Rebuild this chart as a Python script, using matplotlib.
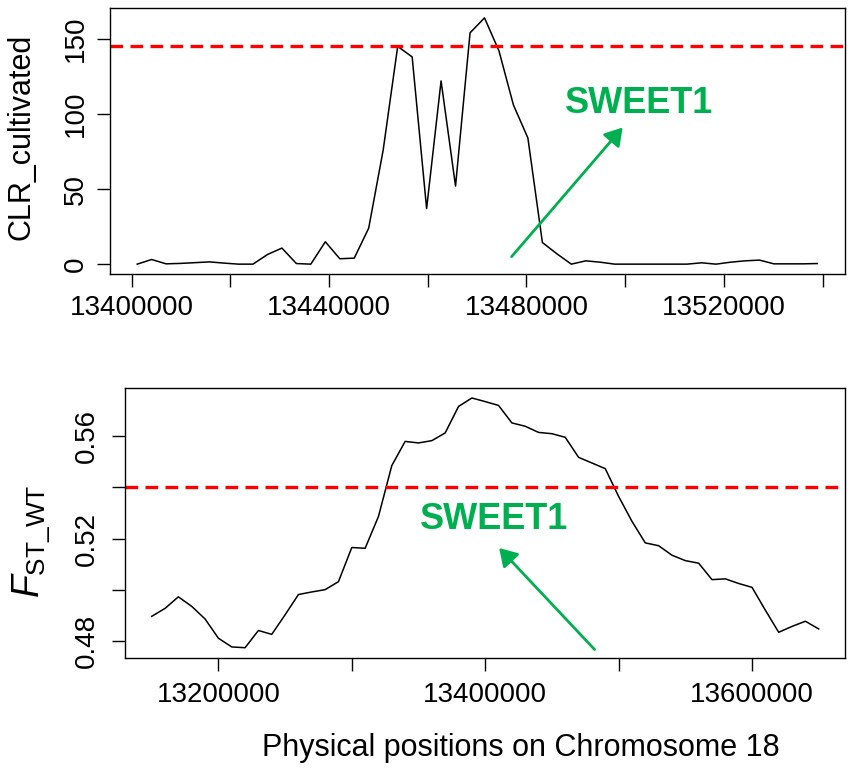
import matplotlib.pyplot as plt
import numpy as np

plt.rcParams['font.family'] = ['Liberation Sans', 'DejaVu Sans']
plt.rcParams['mathtext.fontset'] = 'custom'
plt.rcParams['mathtext.rm'] = 'Liberation Sans'
plt.rcParams['mathtext.it'] = 'Liberation Sans:italic'

# top panel: CLR scan of cultivated samples
clr_pos = [13401140, 13404070, 13407000, 13409940, 13412870, 13415800, 13418730, 13421660,
           13424600, 13427530, 13430460, 13433390, 13436320, 13439260, 13442190, 13445120,
           13448050, 13450980, 13453920, 13456850, 13459780, 13462710, 13465640, 13468580,
           13471510, 13474440, 13477370, 13480300, 13483240, 13486170, 13489100, 13492030,
           13494960, 13497900, 13500830, 13503760, 13506690, 13509620, 13512560, 13515490,
           13518420, 13521350, 13524280, 13527220, 13530150, 13533080, 13536010, 13538940]
clr_val = [0, 3.1, 0.2, 0.5, 1.0, 1.5, 0.7, 0, 0, 6.4, 10.7, 0.4, 0, 14.9, 3.6, 4.0,
           24, 76, 145, 138, 37, 122, 52, 154, 164, 142, 106, 84, 14.4, 6.9, 0, 2.2,
           1.3, 0, 0, 0, 0, 0, 0, 0.9, 0, 1.3, 2.2, 2.7, 0.2, 0.2, 0.2, 0.4]
clr_cut = 145
clr_xticks = [13400000, 13420000, 13440000, 13460000, 13480000, 13500000, 13520000, 13540000]
clr_xlabels = ['13400000', '', '13440000', '', '13480000', '', '13520000', '']
clr_yticks = [0, 50, 100, 150]

# bottom panel: Fst between wild and cultivated
fst_pos = [13150000, 13160000, 13170000, 13180000, 13190000, 13200000, 13210000, 13220000,
           13230000, 13240000, 13250000, 13260000, 13270000, 13280000, 13290000, 13300000,
           13310000, 13320000, 13330000, 13340000, 13350000, 13360000, 13370000, 13380000,
           13390000, 13400000, 13410000, 13420000, 13430000, 13440000, 13450000, 13460000,
           13470000, 13480000, 13490000, 13500000, 13510000, 13520000, 13530000, 13540000,
           13550000, 13560000, 13570000, 13580000, 13590000, 13600000, 13610000, 13620000,
           13630000, 13640000, 13650000]
fst_val = [0.4897, 0.4928, 0.4973, 0.4936, 0.4887, 0.4812, 0.4778, 0.4775, 0.4842, 0.4827,
           0.4903, 0.4982, 0.4992, 0.5001, 0.5032, 0.5165, 0.5162, 0.5286, 0.5484, 0.5578,
           0.5572, 0.5581, 0.5611, 0.5714, 0.5747, 0.5733, 0.5718, 0.5650, 0.5637, 0.5613,
           0.5608, 0.5594, 0.5516, 0.5494, 0.5472, 0.5364, 0.5267, 0.5183, 0.5172, 0.5135,
           0.5114, 0.5104, 0.5040, 0.5043, 0.5025, 0.5010, 0.4921, 0.4835, 0.4858, 0.4878,
           0.4848]
fst_cut = 0.54
fst_xticks = [13200000, 13300000, 13400000, 13500000, 13600000]
fst_xlabels = ['13200000', '', '13400000', '', '13600000']
fst_yticks = [0.48, 0.50, 0.52, 0.54, 0.56]
fst_ylabels = ['0.48', '', '0.52', '', '0.56']

green = '#00B050'
W, H = 849, 776

fig = plt.figure(figsize=(W / 100, H / 100), dpi=100)


def px_rect(l, t, r, b):
    return [l / W, 1 - b / H, (r - l) / W, (b - t) / H]


def style(ax, ysize, ypad, xpad):
    for s in ax.spines.values():
        s.set_linewidth(1.0)
    ax.tick_params(axis='x', length=9.4, width=1.0, labelsize=20, pad=xpad)
    ax.tick_params(axis='y', length=9.4, width=1.0, labelsize=ysize, pad=ypad)
    plt.setp(ax.get_yticklabels(), rotation=90, va='center', ha='right')


ax1 = fig.add_axes(px_rect(110, 8, 844.5, 274))
ax1.plot(clr_pos, clr_val, color='black', lw=1.1)
ax1.margins(x=0.04, y=0.04)
ax1.axhline(clr_cut, color='red', lw=2.4, dashes=(3.8, 2.2))
ax1.set_xticks(clr_xticks)
ax1.set_xticklabels(clr_xlabels)
ax1.set_yticks(clr_yticks)
ax1.set_yticklabels([str(v) for v in clr_yticks])
style(ax1, 20, 6, 5.5)
ax1.annotate('', xy=(13499500, 91), xytext=(13477000, 5),
             arrowprops=dict(arrowstyle='-|>,head_length=0.7,head_width=0.43',
                             mutation_scale=15, lw=2, color=green,
                             shrinkA=0, shrinkB=0))
ax1.text(13502900, 106.7, 'SWEET1', color=green, fontsize=26, fontweight='bold',
         ha='center', va='center')

ax2 = fig.add_axes(px_rect(125, 388, 845.4, 657.7))
ax2.plot(fst_pos, fst_val, color='black', lw=1.1)
ax2.margins(x=0.04, y=0.04)
ax2.axhline(fst_cut, color='red', lw=2.4, dashes=(3.8, 2.2))
ax2.set_xticks(fst_xticks)
ax2.set_xticklabels(fst_xlabels)
ax2.set_yticks(fst_yticks)
ax2.set_yticklabels(fst_ylabels)
style(ax2, 20, 9, 8)
ax2.annotate('', xy=(13410450, 0.5163), xytext=(13482000, 0.4768),
             arrowprops=dict(arrowstyle='-|>,head_length=0.7,head_width=0.43',
                             mutation_scale=15, lw=2, color=green,
                             shrinkA=0, shrinkB=0))
ax2.text(13406500, 0.5274, 'SWEET1', color=green, fontsize=26, fontweight='bold',
         ha='center', va='center')

fig.text(21.7 / W, 1 - 137 / H, 'CLR_cultivated', rotation=90, fontsize=22,
         ha='center', va='center')
fig.text(31 / W, 1 - 541 / H, r'$\mathit{F}_{\mathrm{ST\_WT}}$', rotation=90,
         fontsize=27, ha='center', va='center')
fig.text(521 / W, 1 - 756 / H, 'Physical positions on Chromosome 18', fontsize=22,
         ha='center', va='baseline')

fig.savefig('out.png', dpi=100)
